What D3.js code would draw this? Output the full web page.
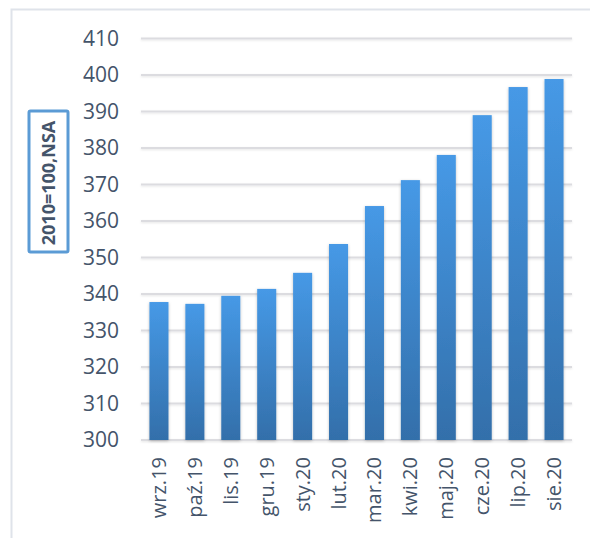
<!DOCTYPE html>
<html>
<head>
<meta charset="UTF-8" />
<title>Indeks 2010=100</title>
<script type="text/javascript" src="https://cdn.jsdelivr.net/npm/d3@7"></script>
<style>
	body { margin: 0; background: #fff; }
	text { font-family: "Open Sans", "Noto Sans", sans-serif; }
</style>
</head>
<body>
	<div id="chart"></div>

	<script type="text/javascript">
		// dane
		var months = ["wrz.19", "paź.19", "lis.19", "gru.19", "sty.20", "lut.20",
			"mar.20", "kwi.20", "maj.20", "cze.20", "lip.20", "sie.20"];
		var values = [337.8, 337.3, 339.5, 341.4, 345.8, 353.7,
			364.1, 371.2, 378.1, 389.0, 396.7, 398.9];
		var yTicks = [300, 310, 320, 330, 340, 350, 360, 370, 380, 390, 400, 410];
		var yTitle = "2010=100,NSA";

		var w = 590, h = 538;
		// uwaga: "top" jest zajęte przez window.top
		var pLeft = 141, pRight = 572, pTop = 38.5, pBottom = 440;

		var svg = d3.select("#chart").append("svg").attr("width", w).attr("height", h);

		var defs = svg.append("defs");
		var grad = defs.append("linearGradient").attr("id", "barGrad")
			.attr("x1", 0).attr("y1", 0).attr("x2", 0).attr("y2", 1);
		grad.append("stop").attr("offset", "0%").attr("stop-color", "#4699e6");
		grad.append("stop").attr("offset", "100%").attr("stop-color", "#336faa");

		var shadow = defs.append("filter").attr("id", "shadow")
			.attr("x", "-30%").attr("y", "-10%").attr("width", "160%").attr("height", "130%");
		shadow.append("feDropShadow").attr("dx", 0).attr("dy", 1)
			.attr("stdDeviation", 1.6).attr("flood-color", "#000").attr("flood-opacity", 0.25);

		// linia pozioma ma zerowa wysokosc, wiec filtr w jednostkach uzytkownika
		var lineShadow = defs.append("filter").attr("id", "lineShadow")
			.attr("filterUnits", "userSpaceOnUse")
			.attr("x", 0).attr("y", 0).attr("width", w).attr("height", h);
		lineShadow.append("feDropShadow").attr("dx", 0).attr("dy", 1)
			.attr("stdDeviation", 0.8).attr("flood-color", "#000").attr("flood-opacity", 0.1);

		// ramka wykresu
		svg.append("path")
			.attr("d", "M11.5," + h + "V9.5H" + w)
			.attr("fill", "none").attr("stroke", "#dfe3ea").attr("stroke-width", 2);

		var x = d3.scaleBand().domain(months).range([pLeft, pRight]).paddingInner(0.47).paddingOuter(0.235);
		var y = d3.scaleLinear().domain([300, 410]).range([pBottom, pTop]);

		// linie siatki
		svg.append("g").selectAll("line").data(yTicks).enter().append("line")
			.attr("x1", pLeft).attr("x2", pRight)
			.attr("y1", function(d){ return y(d); }).attr("y2", function(d){ return y(d); })
			.attr("stroke", "#dcdce0").attr("stroke-width", 2)
			.attr("filter", "url(#lineShadow)");

		// etykiety osi Y
		var yAxis = svg.append("g").attr("transform", "translate(" + (pLeft - 22) + ",0)")
			.call(d3.axisLeft(y).tickValues(yTicks).tickSize(0).tickPadding(0));
		yAxis.select(".domain").remove();
		yAxis.selectAll("text").attr("font-size", 21).attr("fill", "#44546a")
			.attr("font-family", "'Open Sans', sans-serif");

		// słupki
		svg.append("g").selectAll("rect").data(values).enter().append("rect")
			.attr("x", function(d, i){ return x(months[i]); })
			.attr("y", function(d){ return y(d); })
			.attr("width", x.bandwidth())
			.attr("height", function(d){ return pBottom - y(d); })
			.attr("fill", "url(#barGrad)")
			.attr("filter", "url(#shadow)");

		// etykiety osi X
		var xAxis = svg.append("g").attr("transform", "translate(0," + (pBottom + 17) + ")")
			.call(d3.axisBottom(x).tickSize(0).tickPadding(0));
		xAxis.select(".domain").remove();
		xAxis.selectAll("text")
			.attr("font-size", 20).attr("fill", "#44546a")
			.attr("font-family", "'Open Sans', sans-serif")
			.attr("text-anchor", "end")
			.attr("dy", "0.35em")
			.attr("transform", "rotate(-90)")
			.attr("x", 0).attr("y", 0);

		// tytuł osi Y w ramce
		var tb = svg.append("g");
		tb.append("rect").attr("x", 29).attr("y", 111).attr("width", 39).attr("height", 141)
			.attr("rx", 1.5).attr("fill", "#fff").attr("stroke", "#5b9bd5").attr("stroke-width", 3);
		tb.append("text").attr("transform", "translate(48.5,183) rotate(-90)")
			.attr("text-anchor", "middle").attr("dy", "0.36em")
			.attr("font-size", 18).attr("font-weight", "bold").attr("fill", "#44546a")
			.text(yTitle);
	</script>
</body>
</html>
